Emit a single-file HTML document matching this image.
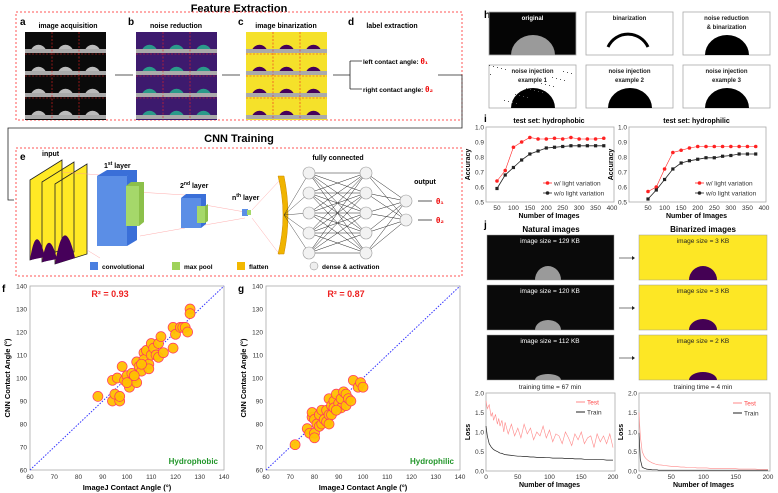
<!DOCTYPE html>
<html><head><meta charset="utf-8"><style>
body{margin:0;background:#fff;width:778px;height:493px;overflow:hidden}
svg{font-family:"Liberation Sans",sans-serif;display:block}
.b{font-weight:bold}
</style></head><body>
<svg id="s" width="778" height="493" viewBox="0 0 778 493" xmlns="http://www.w3.org/2000/svg">
<g>
<text x="239" y="9" font-size="11" class="b" text-anchor="middle" dominant-baseline="middle">Feature Extraction</text>
<rect x="16" y="12" width="446" height="108" fill="none" stroke="#f55" stroke-dasharray="2,2"/>
<text x="20" y="25" font-size="10" class="b">a</text><text x="128" y="25" font-size="10" class="b">b</text><text x="238" y="25" font-size="10" class="b">c</text><text x="348" y="25" font-size="10" class="b">d</text>
<text x="68" y="28" font-size="7" class="b" text-anchor="middle">image acquisition</text>
<text x="176" y="28" font-size="7" class="b" text-anchor="middle">noise reduction</text>
<text x="286" y="28" font-size="7" class="b" text-anchor="middle">image binarization</text>
<text x="392" y="28" font-size="7" class="b" text-anchor="middle">label extraction</text>
<g id="grids"></g>
<path d="M115 75H133M222 75H240M333 75H350M350 61V89M350 61H362M350 89H362M438 75H462V128H8V200H14" fill="none" stroke="#222" stroke-width="0.8"/>
<text x="363" y="64" font-size="6.5" class="b">left contact angle: <tspan fill="#e00" font-size="8">θ₁</tspan></text>
<text x="363" y="92" font-size="6.5" class="b">right contact angle: <tspan fill="#e00" font-size="8">θ₂</tspan></text>
</g>
<g>
<text x="239" y="139" font-size="11" class="b" text-anchor="middle" dominant-baseline="middle">CNN Training</text>
<rect x="16" y="148" width="446" height="128" fill="none" stroke="#f55" stroke-dasharray="2,2"/>
<text x="20" y="160" font-size="10" class="b">e</text>
<text x="42" y="156" font-size="7" class="b">input</text>
<path d="M30 180L62 160V250L30 260Z M42 182L74 162V252L42 262Z M55 184L87 164V254L55 264Z" fill="#ffe925" stroke="#222" stroke-width="0.8"/>
<path d="M30 260Q36 220 45 257Z M42 262Q48 225 57 259Z M55 264Q64 210 75 258Z" fill="#46005a"/>
<path d="M62 172L100 175M87 250L100 258M137 192L185 195M140 236L185 228M205 205L245 212M205 225L245 218M252 210L280 180M252 218L280 255" stroke="#f99" stroke-width="0.4"/>
<path d="M97 176L107 170H137L127 176Z M127 176L137 170V240L127 246Z" fill="#3a6fd8"/><rect x="97" y="176" width="30" height="70" fill="#5b8ee6"/>
<path d="M126 186L131 182H144L139 186Z M139 186L144 182V222L139 226Z" fill="#8cc04a"/><rect x="126" y="186" width="13" height="40" fill="#a5d86a"/>
<text x="104" y="168" font-size="7" class="b">1<tspan font-size="5" dy="-3">st</tspan><tspan dy="3"> layer</tspan></text>
<rect x="181" y="198" width="20" height="30" fill="#5b8ee6"/><path d="M181 198L186 194H206L201 198Z M201 198L206 194V224L201 228Z" fill="#3a6fd8"/>
<rect x="197" y="206" width="8" height="17" fill="#a5d86a"/><path d="M205 206L208 204V221L205 223Z" fill="#8cc04a"/>
<text x="180" y="188" font-size="7" class="b">2<tspan font-size="5" dy="-3">nd</tspan><tspan dy="3"> layer</tspan></text>
<rect x="242" y="209" width="6" height="7" fill="#5b8ee6"/><rect x="247" y="210" width="4" height="5" fill="#a5d86a"/>
<text x="232" y="200" font-size="7" class="b">n<tspan font-size="5" dy="-3">th</tspan><tspan dy="3"> layer</tspan></text>
<path d="M278 176Q288 215 278 254H284Q292 215 284 176Z" fill="#f0b400" stroke="#c80" stroke-width="0.5"/>
<g id="nn"></g>
<text x="338" y="160" font-size="7" class="b" text-anchor="middle">fully connected</text>
<text x="425" y="184" font-size="7" class="b" text-anchor="middle">output</text>
<text x="436" y="204" font-size="8" class="b" fill="#e00">θ₁</text><text x="436" y="223" font-size="8" class="b" fill="#e00">θ₂</text>
<path d="M418 201H432M418 220H432" stroke="#222" stroke-width="0.8"/>
<rect x="90" y="262" width="8" height="8" fill="#4a7fe0"/><text x="102" y="269" font-size="6.5" class="b">convolutional</text>
<rect x="172" y="262" width="8" height="8" fill="#9fd25a"/><text x="184" y="269" font-size="6.5" class="b">max pool</text>
<rect x="237" y="262" width="8" height="8" fill="#f2b800"/><text x="249" y="269" font-size="6.5" class="b">flatten</text>
<circle cx="314" cy="266" r="4" fill="#eee" stroke="#888" stroke-width="0.5"/><text x="322" y="269" font-size="6.5" class="b">dense &amp; activation</text>
</g>
<g id="charts"></g>
</svg>
<script>
// ---- data ----
const fX=[88,94,95,94,97,97,96,98,99,100,101,102,103,104,104,105,106,107,107,108,109,109,110,110,111,112,113,113,114,115,119,119,120,122,123,124,125,126,126,103,106,100];
const fY=[92,90,93,99,90,92,100,105,99,101,96,102,100,98,107,105,103,111,108,112,106,104,110,115,113,110,109,115,118,111,113,122,119,122,122,122,120,130,128,101,106,98];
const gX=[72,77,78,79,79,80,80,80,81,82,82,83,83,84,85,85,86,86,87,87,88,88,89,90,91,91,92,93,93,94,95,96,98,99,100,86,89];
const gY=[71,78,76,83,85,76,74,82,80,79,84,86,80,82,86,81,84,91,88,84,90,87,93,89,87,91,94,93,88,91,90,99,96,98,96,80,86];
const nImg=[50,75,100,125,150,175,200,225,250,275,300,325,350,375];
const phobW=[0.64,0.71,0.865,0.90,0.93,0.92,0.92,0.925,0.92,0.93,0.92,0.92,0.92,0.925];
const phobWo=[0.59,0.68,0.73,0.78,0.82,0.84,0.86,0.865,0.87,0.875,0.875,0.875,0.875,0.875];
const philW=[0.57,0.60,0.72,0.83,0.845,0.86,0.87,0.87,0.87,0.87,0.87,0.87,0.87,0.87];
const philWo=[0.52,0.58,0.65,0.72,0.76,0.775,0.785,0.795,0.795,0.805,0.81,0.82,0.82,0.82];
const epochs=[0,2,5,8,10,12,15,18,20,22,25,28,30,35,40,45,50,55,60,65,70,75,80,85,90,95,100,105,110,115,120,125,130,135,140,145,150,155,160,165,170,175,180,185,190,195,200];
const natTest=[1.8,1.6,1.7,1.4,1.5,1.3,1.45,1.2,1.35,1.15,1.3,1.0,1.25,0.95,1.2,0.9,1.1,0.85,1.2,0.95,1.1,0.8,1.0,0.9,1.15,0.85,1.05,0.75,0.95,0.9,0.7,1.0,0.85,0.65,0.95,0.8,1.0,0.7,0.85,0.9,0.6,0.95,0.75,0.9,0.7,0.95,0.6];
const natTrain=[1.15,0.9,0.7,0.62,0.58,0.55,0.52,0.5,0.48,0.46,0.45,0.43,0.42,0.41,0.40,0.39,0.38,0.38,0.37,0.37,0.36,0.36,0.35,0.35,0.35,0.34,0.34,0.33,0.33,0.33,0.33,0.32,0.32,0.32,0.31,0.31,0.31,0.30,0.30,0.30,0.30,0.29,0.29,0.29,0.28,0.28,0.28];
const binTest=[1.5,0.9,0.5,0.38,0.33,0.3,0.26,0.23,0.21,0.2,0.18,0.17,0.16,0.15,0.14,0.13,0.12,0.12,0.11,0.1,0.1,0.09,0.09,0.09,0.08,0.08,0.08,0.08,0.07,0.07,0.07,0.07,0.06,0.06,0.06,0.06,0.06,0.05,0.05,0.05,0.05,0.05,0.05,0.04,0.04,0.04,0.04];
const binTrain=[0.98,0.3,0.1,0.07,0.06,0.05,0.04,0.04,0.03,0.03,0.03,0.03,0.02,0.02,0.02,0.02,0.02,0.02,0.02,0.02,0.02,0.02,0.02,0.02,0.02,0.02,0.02,0.02,0.02,0.02,0.02,0.02,0.02,0.02,0.02,0.02,0.02,0.02,0.02,0.02,0.02,0.02,0.02,0.02,0.02,0.02,0.02];
const angTicks=[60,70,80,90,100,110,120,130,140];
const accTicks=[0.5,0.6,0.7,0.8,0.9,1.0];
const nTicks=[50,100,150,200,250,300,350,400];
const lossTicks=[0.0,0.5,1.0,1.5,2.0];
const epTicks=[0,50,100,150,200];

const NS="http://www.w3.org/2000/svg";
function mk(p,t,a,txt){const e=document.createElementNS(NS,t);for(const k in a)e.setAttribute(k,a[k]);if(txt!==undefined)e.textContent=txt;p.appendChild(e);return e;}
const root=document.getElementById('charts');
function lin(d0,d1,r0,r1){return v=>r0+(v-d0)/(d1-d0)*(r1-r0);}

// grids a,b,c
const grids=document.getElementById('grids');
[[25,'#0a0a0a','#bbb'],[136,'#3d1a6e','#2a9a8a'],[246,'#f5e12a','#46005a']].forEach((g,gi)=>{
  const grp=mk(grids,'g',{});
  
  
  for(let r=0;r<4;r++){const y=32+r*22;
    mk(grp,'rect',{x:g[0],y:y,width:81,height:22,fill:g[1]});
    for(let c=0;c<3;c++){mk(grp,'path',{d:`M${g[0]+c*27+6} ${y+18}A8 8 0 0 1 ${g[0]+c*27+21} ${y+18}Z`,fill:g[2]});}
    mk(grp,'rect',{x:g[0],y:y+17,width:81,height:4,fill:'#aaa'});
  }
  mk(grp,'path',{d:`M${g[0]+27} 32V120M${g[0]+54} 32V120M${g[0]} 54H${g[0]+81}M${g[0]} 76H${g[0]+81}M${g[0]} 98H${g[0]+81}`,stroke:'#e22','stroke-width':0.6,'stroke-dasharray':'2,1.5'});
});

// NN
const nn=document.getElementById('nn');
const L1=[173,193,213,233,253].map(y=>[309,y]),L2=[173,193,213,233,253].map(y=>[366,y]),L3=[[406,201],[406,220]];
L1.forEach(a=>{mk(nn,'line',{x1:284,y1:215,x2:a[0],y2:a[1],stroke:'#222','stroke-width':0.4});});
L1.forEach(a=>L2.forEach(b=>mk(nn,'line',{x1:a[0],y1:a[1],x2:b[0],y2:b[1],stroke:'#222','stroke-width':0.5})));
L2.forEach(a=>L3.forEach(b=>mk(nn,'line',{x1:a[0],y1:a[1],x2:b[0],y2:b[1],stroke:'#222','stroke-width':0.5})));
[...L1,...L2,...L3].forEach(p=>{const c=mk(nn,'circle',{cx:p[0],cy:p[1],r:6,fill:'#f2f2f2',stroke:'#999','stroke-width':0.6});});

// scatter
function scatter(name,ox,letter,xs,ys,r2,label){
  const g=mk(root,'g',{});
  const X=lin(60,140,ox,ox+194),Y=lin(60,140,470,286);
  mk(g,'rect',{x:ox,y:286,width:194,height:184,fill:'none',stroke:'#aaa','stroke-width':0.8});
  mk(g,'text',{x:ox-28,y:292,'font-size':10,'font-weight':'bold'},letter);
  angTicks.forEach(t=>{mk(g,'text',{x:X(t),y:479,'font-size':6.5,'text-anchor':'middle',fill:'#333'},t);
    mk(g,'text',{x:ox-3,y:Y(t)+2.5,'font-size':6.5,'text-anchor':'end',fill:'#333'},t);});
  mk(g,'text',{x:ox+97,y:490,'font-size':7.5,'font-weight':'bold','text-anchor':'middle'},'ImageJ Contact Angle (°)');
  mk(g,'text',{x:ox-20,y:378,'font-size':7.5,'font-weight':'bold','text-anchor':'middle',transform:`rotate(-90 ${ox-20} 378)`},'CNN Contact Angle (°)');
  mk(g,'line',{x1:X(60),y1:Y(60),x2:X(140),y2:Y(140),stroke:'#33f','stroke-width':1,'stroke-dasharray':'1.5,1.5'});
  xs.forEach((v,i)=>{const c=mk(g,'circle',{cx:X(v),cy:Y(ys[i]),r:5,fill:'#ffc000',stroke:'#f36','stroke-width':0.7,'fill-opacity':0.95});
    });
  mk(g,'text',{x:ox+80,y:297,'font-size':9,'font-weight':'bold',fill:'#e22','text-anchor':'middle'},'R² = '+r2);
  mk(g,'text',{x:ox+188,y:464,'font-size':8,'font-weight':'bold',fill:'#22962a','text-anchor':'end'},label);
}
scatter('scatter-hydrophobic',30,'f',fX,fY,'0.93','Hydrophobic');
scatter('scatter-hydrophilic',266,'g',gX,gY,'0.87','Hydrophilic');

// h images
const hg=mk(root,'g',{});
mk(hg,'text',{x:484,y:18,'font-size':10,'font-weight':'bold'},'h');
const hl=[['original'],['binarization'],['noise reduction','& binarization'],['noise injection','example 1'],['noise injection','example 2'],['noise injection','example 3']];
hl.forEach((l,i)=>{const x=489+(i%3)*97,y=i<3?12:65;const dark=i==0;
  mk(hg,'rect',{x:x,y:y,width:87,height:43,fill:dark?'#050505':'#fff',stroke:'#aaa','stroke-width':0.8});
  if(i==1) mk(hg,'path',{d:`M${x+22} ${y+35}A22 22 0 0 1 ${x+62} ${y+35}`,fill:'none',stroke:'#000','stroke-width':3});
  else mk(hg,'path',{d:`M${x+22} ${y+43}A22 20 0 0 1 ${x+66} ${y+43}Z`,fill:dark?'#9a9a9a':'#000'});
  if(i==3) for(let k=0;k<30;k++) mk(hg,'rect',{x:x+((k*37)%85),y:y+((k*23)%40),width:1,height:1,fill:'#555'});
  l.forEach((t,j)=>mk(hg,'text',{x:x+43.5,y:y+8+j*9,'font-size':6,'font-weight':'bold','text-anchor':'middle',fill:dark?'#fff':'#222'},t));
});

// line chart helper
function lineChart(name,box,xd,yd,xt,yt,series,title,xlab,ylab,legend){
  const g=mk(root,'g',{});
  const X=lin(xd[0],xd[1],box.x0,box.x1),Y=lin(yd[0],yd[1],box.y0,box.y1);
  mk(g,'rect',{x:box.bx,y:box.y1,width:box.x1-box.bx+2,height:box.y0-box.y1,fill:'none',stroke:'#aaa','stroke-width':0.8});
  xt.forEach(t=>mk(g,'text',{x:X(t),y:box.y0+8,'font-size':6.5,'text-anchor':'middle',fill:'#333'},t));
  yt.forEach(t=>mk(g,'text',{x:box.bx-2,y:Y(t)+2.5,'font-size':6.5,'text-anchor':'end',fill:'#333'},t.toFixed(1)));
  if(title) mk(g,'text',{x:(box.bx+box.x1)/2,y:box.y1-4,'font-size':7,'font-weight':'bold','text-anchor':'middle'},title);
  mk(g,'text',{x:(box.bx+box.x1)/2,y:box.y0+16,'font-size':7,'font-weight':'bold','text-anchor':'middle'},xlab);
  const yc=(box.y0+box.y1)/2;
  mk(g,'text',{x:box.bx-16,y:yc,'font-size':7,'font-weight':'bold','text-anchor':'middle',transform:`rotate(-90 ${box.bx-16} ${yc})`},ylab);
  series.forEach((s,si)=>{
    const d=s.y.map((v,i)=>(i?'L':'M')+X(s.x[i]).toFixed(1)+' '+Y(v).toFixed(1)).join('');
    const p=mk(g,'path',{d:d,fill:'none',stroke:s.c,'stroke-width':s.w||0.8});
    
    if(s.m) s.y.forEach((v,i)=>{const m=mk(g,s.m=='c'?'circle':'rect',s.m=='c'?{cx:X(s.x[i]),cy:Y(v),r:1.8,fill:s.c}:{x:X(s.x[i])-1.6,y:Y(v)-1.6,width:3.2,height:3.2,fill:s.c});
      });
    const lx=legend.x,ly=legend.y+si*10;
    mk(g,'line',{x1:lx,y1:ly,x2:lx+9,y2:ly,stroke:s.c,'stroke-width':s.m?0.8:1});
    if(s.m) mk(g,'circle',{cx:lx+4.5,cy:ly,r:1.8,fill:s.c});
    mk(g,'text',{x:lx+11,y:ly+2.5,'font-size':6.5,fill:s.tc||'#333'},s.label);
  });
}
mk(root,'text',{x:484,y:122,'font-size':10,'font-weight':'bold'},'i');
lineChart('accuracy-hydrophobic',{bx:486,x0:497,x1:612,y0:202,y1:127},[50,400],[0.5,1.0],nTicks,accTicks,
 [{x:nImg,y:phobW,c:'#f22',m:'c',n:'with-light',label:'w/ light variation',w:0.6},{x:nImg,y:phobWo,c:'#222',m:'s',n:'without-light',label:'w/o light variation'}],
 'test set: hydrophobic','Number of Images','Accuracy',{x:543,y:183});
lineChart('accuracy-hydrophilic',{bx:629,x0:648,x1:764,y0:202,y1:127},[50,400],[0.5,1.0],nTicks,accTicks,
 [{x:nImg,y:philW,c:'#f22',m:'c',n:'with-light',label:'w/ light variation',w:0.6},{x:nImg,y:philWo,c:'#222',m:'s',n:'without-light',label:'w/o light variation'}],
 'test set: hydrophilic','Number of Images','Accuracy',{x:695,y:183});

// j images
const jg=mk(root,'g',{});
mk(jg,'text',{x:484,y:228,'font-size':10,'font-weight':'bold'},'j');
mk(jg,'text',{x:551,y:232,'font-size':8,'font-weight':'bold','text-anchor':'middle'},'Natural images');
mk(jg,'text',{x:703,y:232,'font-size':8,'font-weight':'bold','text-anchor':'middle'},'Binarized images');
const nat=['129','120','112'],bin=['3','3','2'];
[0,1,2].forEach(i=>{const y=235+i*50;
  mk(jg,'rect',{x:487,y:y,width:127,height:45,fill:'#0a0a0a',stroke:'#999','stroke-width':0.5});
  mk(jg,'path',{d:`M535 ${y+45}A13 ${14-i*4} 0 0 1 561 ${y+45}Z`,fill:'#9a9a9a'});
  mk(jg,'text',{x:550,y:y+8,'font-size':6.5,'text-anchor':'middle',fill:'#fff'},'image size = '+nat[i]+' KB');
  mk(jg,'rect',{x:639,y:y,width:128,height:45,fill:'#fde725',stroke:'#999','stroke-width':0.5});
  mk(jg,'path',{d:`M689 ${y+45}A14 ${14-i*3} 0 0 1 717 ${y+45}Z`,fill:'#440154'});
  mk(jg,'text',{x:703,y:y+8,'font-size':6.5,'text-anchor':'middle',fill:'#222'},'image size = '+bin[i]+' KB');
  mk(jg,'path',{d:`M619 ${y+23}H632`,stroke:'#222','stroke-width':0.6});
  mk(jg,'path',{d:`M632 ${y+21}L635 ${y+23}L632 ${y+25}Z`,fill:'#222'});
});
mk(jg,'text',{x:550,y:389,'font-size':6.5,'text-anchor':'middle',fill:'#222'},'training time = 67 min');
mk(jg,'text',{x:703,y:389,'font-size':6.5,'text-anchor':'middle',fill:'#222'},'training time = 4 min');
lineChart('loss-natural',{bx:486,x0:486,x1:613,y0:471,y1:393},[0,200],[0,2],epTicks,lossTicks,
 [{x:epochs,y:natTest,c:'#f88',n:'test',label:'Test',tc:'#f44',w:0.6},{x:epochs,y:natTrain,c:'#222',n:'train',label:'Train',w:0.7}],
 null,'Number of Images','Loss',{x:576,y:402});
lineChart('loss-binarized',{bx:639,x0:639,x1:768,y0:471,y1:393},[0,200],[0,2],epTicks,lossTicks,
 [{x:epochs,y:binTest,c:'#f88',n:'test',label:'Test',tc:'#f44',w:0.6},{x:epochs,y:binTrain,c:'#222',n:'train',label:'Train',w:0.7}],
 null,'Number of Images','Loss',{x:733,y:403});
</script>
</body></html>
